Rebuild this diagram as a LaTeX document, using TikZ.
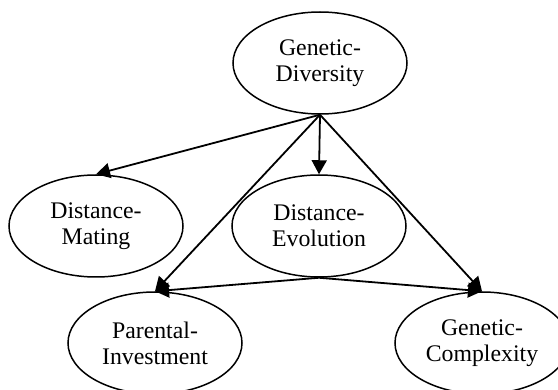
\documentclass[tikz,border=0pt]{standalone}
\usepackage{fontspec}
\setmainfont{Liberation Serif}
\usetikzlibrary{shapes.geometric,arrows.meta}
\begin{document}
\begin{tikzpicture}[x=1pt,y=-1pt,
  ell/.style={draw, line width=1.5pt, ellipse, inner sep=0pt,
    minimum width=174pt, minimum height=102pt, align=center,
    font=\fontsize{23.8}{26}\selectfont},
  edge/.style={line width=1.8pt, -{Triangle[length=14pt,width=15pt]}}]
\useasboundingbox (0,0) rectangle (558,390);
\node[ell] (gd) at (320,63) {Genetic-\\Diversity};
\node[ell] (dm) at (96,226) {Distance-\\Mating};
\node[ell] (de) at (319,226) {Distance-\\Evolution};
\node[ell] (pi) at (155,343) {Parental-\\Investment};
\node[ell] (gc) at (482,343) {Genetic-\\Complexity};
\draw[edge] (gd.south) -- (dm.north);
\draw[edge] (gd.south) -- (de.north);
\draw[edge] (gd.south) -- (pi.north);
\draw[edge] (gd.south) -- (gc.north);
\draw[edge] (de.south) -- (pi.north);
\draw[edge] (de.south) -- (gc.north);
\end{tikzpicture}
\end{document}
